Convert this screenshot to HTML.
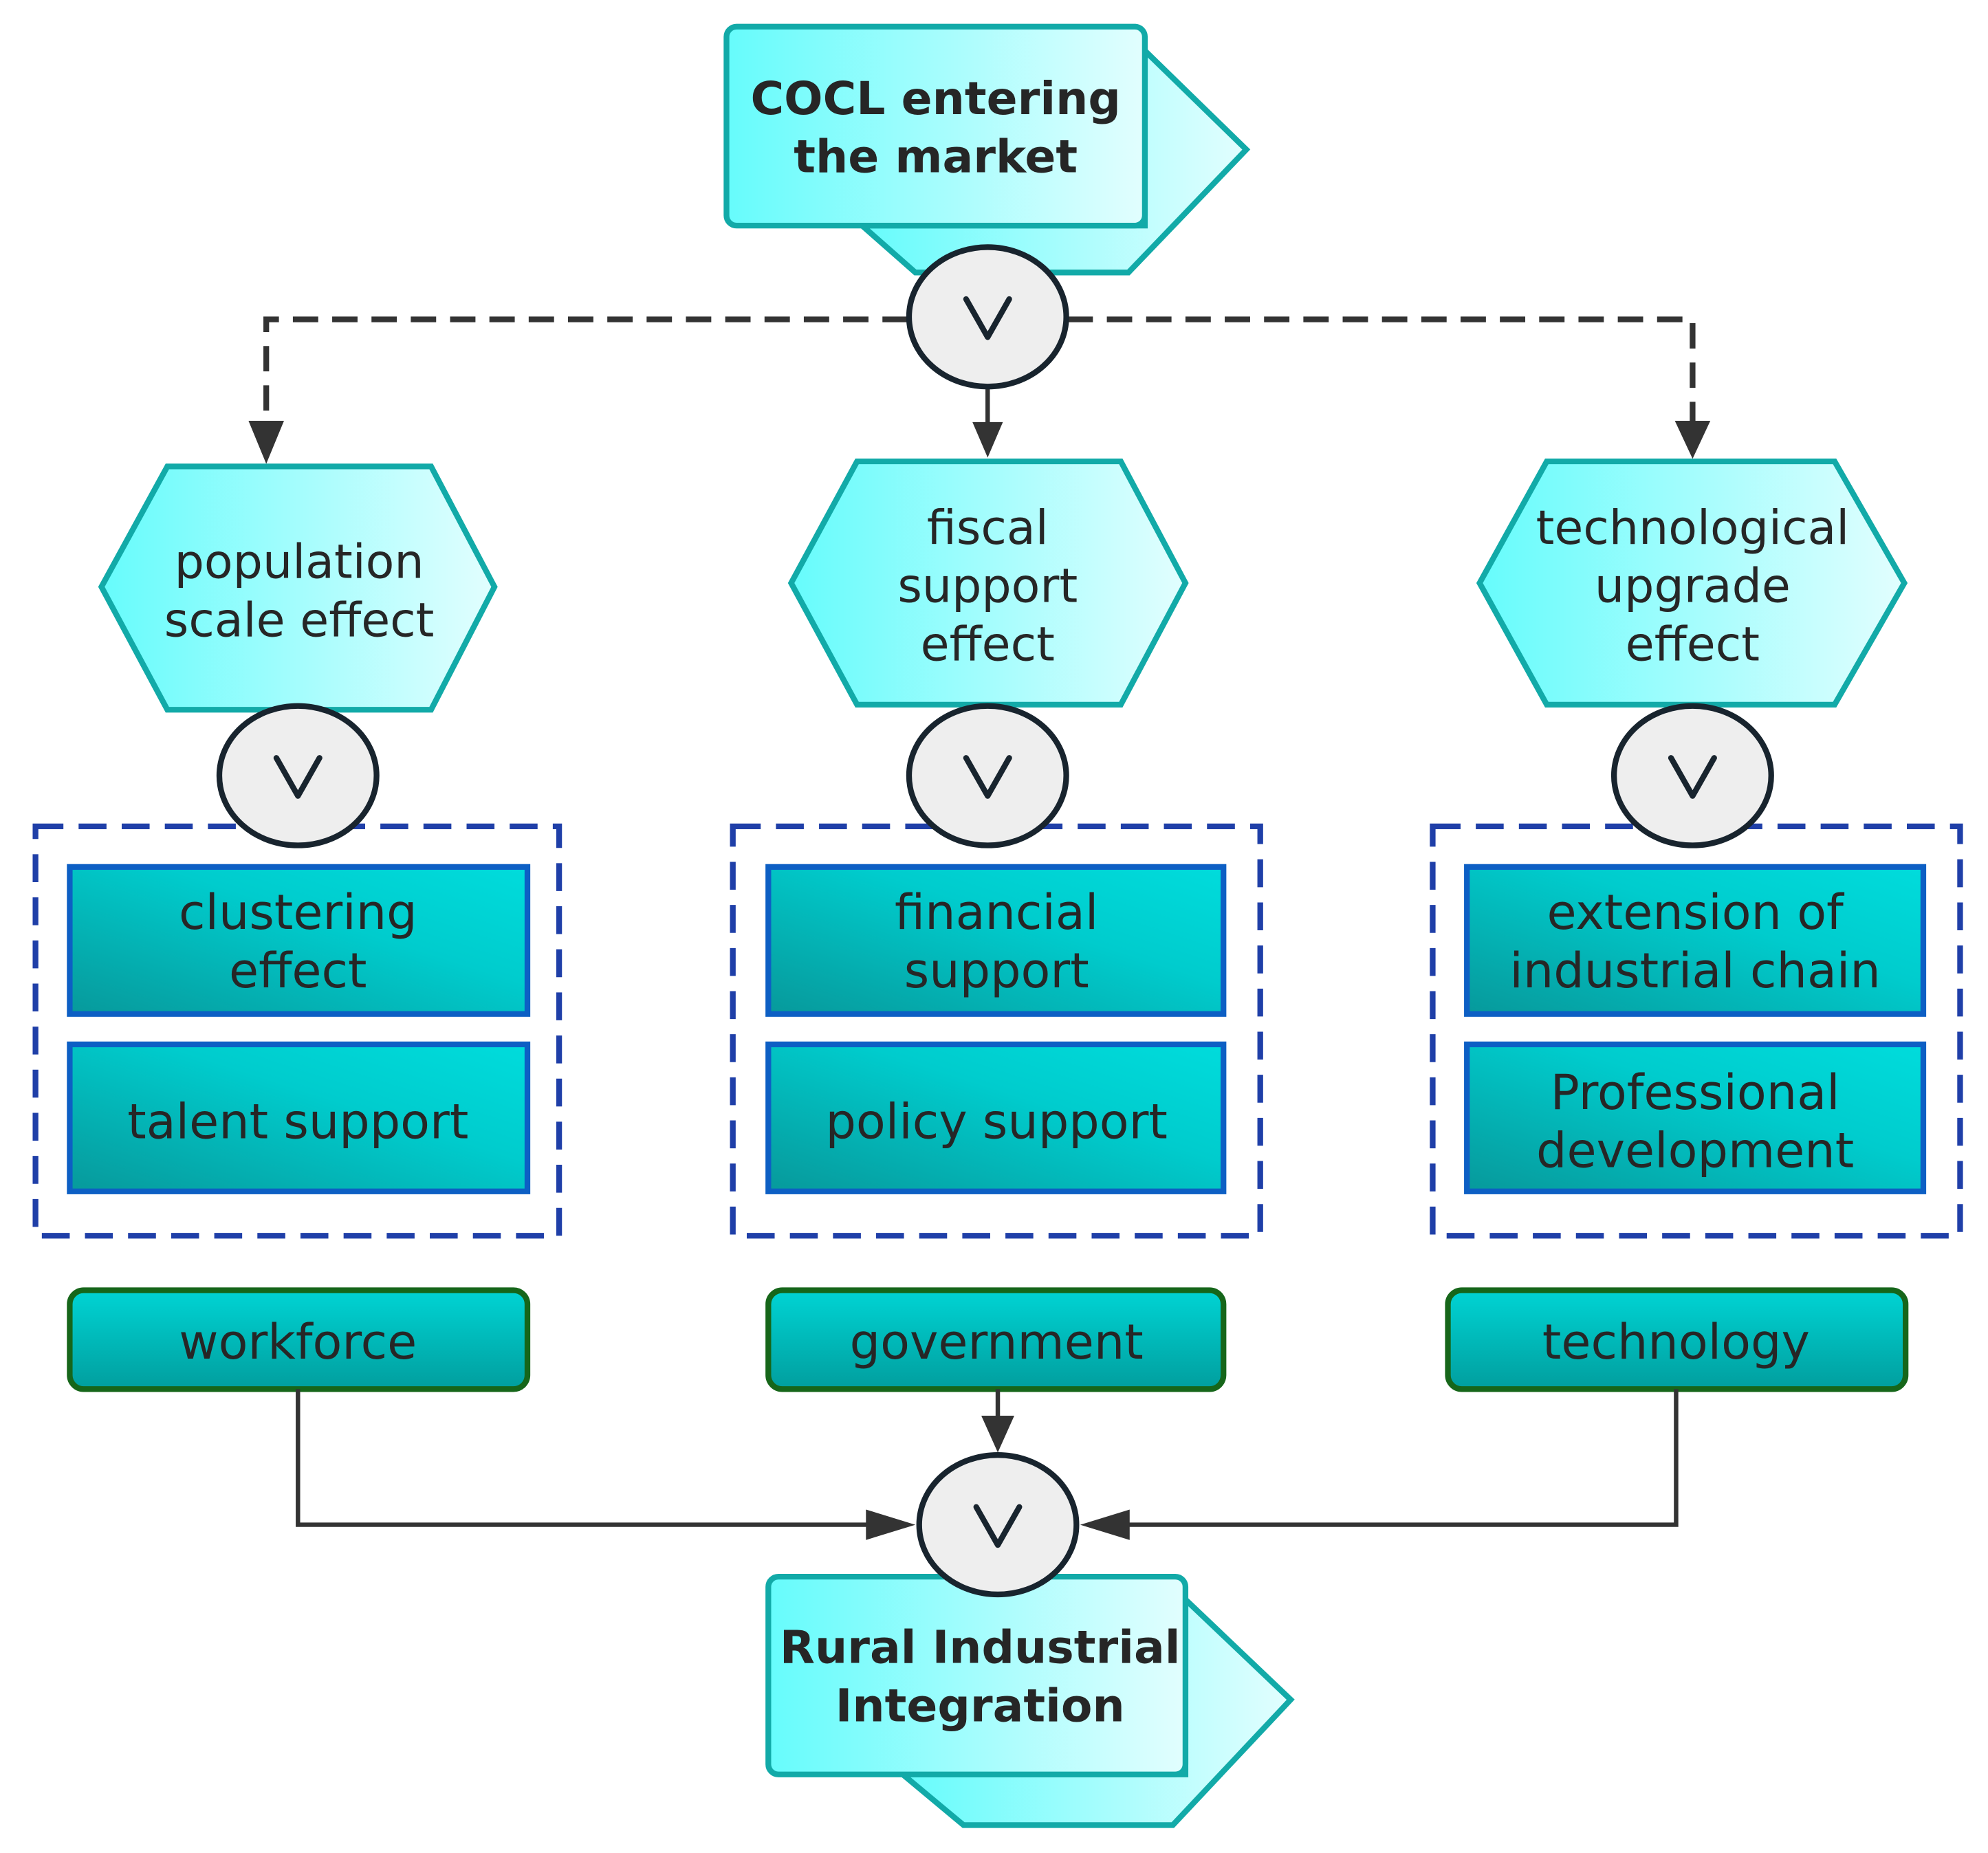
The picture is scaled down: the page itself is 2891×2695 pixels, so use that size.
<!DOCTYPE html>
<html><head><meta charset="utf-8"><style>
html,body{margin:0;padding:0;background:#fff;}
svg{display:block;}
text{font-family:"DejaVu Sans","Liberation Sans",sans-serif;fill:#262626;text-anchor:middle;}
</style></head><body>
<svg width="2891" height="2695" viewBox="0 0 1568 1462" preserveAspectRatio="none" xmlns="http://www.w3.org/2000/svg">
<defs>
<linearGradient id="cy" x1="0" y1="0" x2="1" y2="0"><stop offset="0" stop-color="#66fcfc"/><stop offset="1" stop-color="#e2fefe"/></linearGradient>
<linearGradient id="tl" x1="0" y1="1" x2="1" y2="0"><stop offset="0" stop-color="#07999b"/><stop offset="0.6" stop-color="#00cccd"/><stop offset="1" stop-color="#00dcdc"/></linearGradient>
<linearGradient id="gr" x1="0" y1="0" x2="0" y2="1"><stop offset="0" stop-color="#00d4d4"/><stop offset="1" stop-color="#019e9e"/></linearGradient>
</defs>
<!-- top shape -->
<polygon points="680,178 722,215 890,215 983,118 903,40 903,178" fill="url(#cy)" stroke="#12aaa8" stroke-width="4.5"/>
<rect x="573" y="21" width="330" height="157" rx="8" fill="url(#cy)" stroke="#12aaa8" stroke-width="4.5"/>
<text x="738" y="90" font-size="36" font-weight="bold">COCL entering</text>
<text x="738" y="136" font-size="36" font-weight="bold">the market</text>

<!-- dashed connectors -->
<g stroke="#333" stroke-width="4.5" fill="none" stroke-dasharray="20 11">
<path d="M716,252 L210,252 L210,335"/>
<path d="M842,252 L1335,252 L1335,335"/>
</g>
<path d="M196,332 L224,332 L210,366 z" fill="#333"/>
<path d="M1321,332 L1349,332 L1335,362 z" fill="#333"/>
<line x1="779" y1="305" x2="779" y2="335" stroke="#333" stroke-width="3.5"/>
<path d="M767,333 L791,333 L779,361 z" fill="#333"/>

<!-- hexagons -->
<polygon points="80,463 132,368 340,368 390,463 340,560 132,560" fill="url(#cy)" stroke="#12aaa8" stroke-width="4.5"/>
<polygon points="624,460 676,364 884,364 935,460 884,556 676,556" fill="url(#cy)" stroke="#12aaa8" stroke-width="4.5"/>
<polygon points="1167,460 1220,364 1447,364 1502,460 1447,556 1220,556" fill="url(#cy)" stroke="#12aaa8" stroke-width="4.5"/>
<g font-size="37">
<text x="236" y="456">population</text>
<text x="236" y="502">scale effect</text>
<text x="779" y="429">fiscal</text>
<text x="779" y="475">support</text>
<text x="779" y="521">effect</text>
<text x="1335" y="429">technological</text>
<text x="1335" y="475">upgrade</text>
<text x="1335" y="521">effect</text>
</g>

<!-- dashed groups -->
<g stroke="#1f3fa8" stroke-width="4.5" fill="none" stroke-dasharray="22 12">
<rect x="28" y="652" width="413" height="323"/>
<rect x="578" y="652" width="416" height="323"/>
<rect x="1130" y="652" width="416" height="323"/>
</g>

<!-- inner boxes -->
<g fill="url(#tl)" stroke="#0d5fc4" stroke-width="4.5">
<rect x="55" y="684" width="361" height="116"/>
<rect x="55" y="824" width="361" height="116"/>
<rect x="606" y="684" width="359" height="116"/>
<rect x="606" y="824" width="359" height="116"/>
<rect x="1157" y="684" width="360" height="116"/>
<rect x="1157" y="824" width="360" height="116"/>
</g>
<g font-size="38">
<text x="235" y="733">clustering</text>
<text x="235" y="779">effect</text>
<text x="235" y="898">talent support</text>
<text x="786" y="733">financial</text>
<text x="786" y="779">support</text>
<text x="786" y="898">policy support</text>
<text x="1337" y="733">extension of</text>
<text x="1337" y="779">industrial chain</text>
<text x="1337" y="875">Professional</text>
<text x="1337" y="921">development</text>
</g>

<!-- gateways -->
<g fill="#eeeeee" stroke="#18242e" stroke-width="4.5">
<ellipse cx="779" cy="250" rx="62" ry="55"/>
<ellipse cx="235" cy="612" rx="62" ry="55"/>
<ellipse cx="779" cy="612" rx="62" ry="55"/>
<ellipse cx="1335" cy="612" rx="62" ry="55"/>
</g>
<g fill="none" stroke="#18242e" stroke-width="4.5" stroke-linecap="round" stroke-linejoin="round">
<polyline points="762,236 779,266 796,236"/>
<polyline points="218,598 235,628 252,598"/>
<polyline points="762,598 779,628 796,598"/>
<polyline points="1318,598 1335,628 1352,598"/>
</g>

<!-- green boxes -->
<g fill="url(#gr)" stroke="#16661a" stroke-width="4.5">
<rect x="55" y="1018" width="361" height="78" rx="11"/>
<rect x="606" y="1018" width="359" height="78" rx="11"/>
<rect x="1142" y="1018" width="361" height="78" rx="11"/>
</g>
<g font-size="38">
<text x="235" y="1072">workforce</text>
<text x="786" y="1072">government</text>
<text x="1322" y="1072">technology</text>
</g>

<!-- bottom connectors -->
<g stroke="#333" stroke-width="3.5" fill="none">
<path d="M235,1096 L235,1203 L690,1203"/>
<path d="M1322,1096 L1322,1203 L885,1203"/>
<line x1="787" y1="1096" x2="787" y2="1120"/>
</g>
<path d="M683,1191 L722,1203 L683,1215 z" fill="#333"/>
<path d="M891,1191 L852,1203 L891,1215 z" fill="#333"/>
<path d="M774,1117 L800,1117 L787,1146 z" fill="#333"/>

<!-- bottom shape -->
<polygon points="712,1400 760,1440 925,1440 1018,1341 935,1262 935,1400" fill="url(#cy)" stroke="#12aaa8" stroke-width="4.5"/>
<rect x="606" y="1244" width="329" height="156" rx="8" fill="url(#cy)" stroke="#12aaa8" stroke-width="4.5"/>
<ellipse cx="787" cy="1203" rx="62" ry="55" fill="#eeeeee" stroke="#18242e" stroke-width="4.5"/>
<polyline points="770,1189 787,1219 804,1189" fill="none" stroke="#18242e" stroke-width="4.5" stroke-linecap="round" stroke-linejoin="round"/>
<text x="773" y="1312" font-size="36" font-weight="bold">Rural Industrial</text>
<text x="773" y="1358" font-size="36" font-weight="bold">Integration</text>
</svg>
</body></html>
